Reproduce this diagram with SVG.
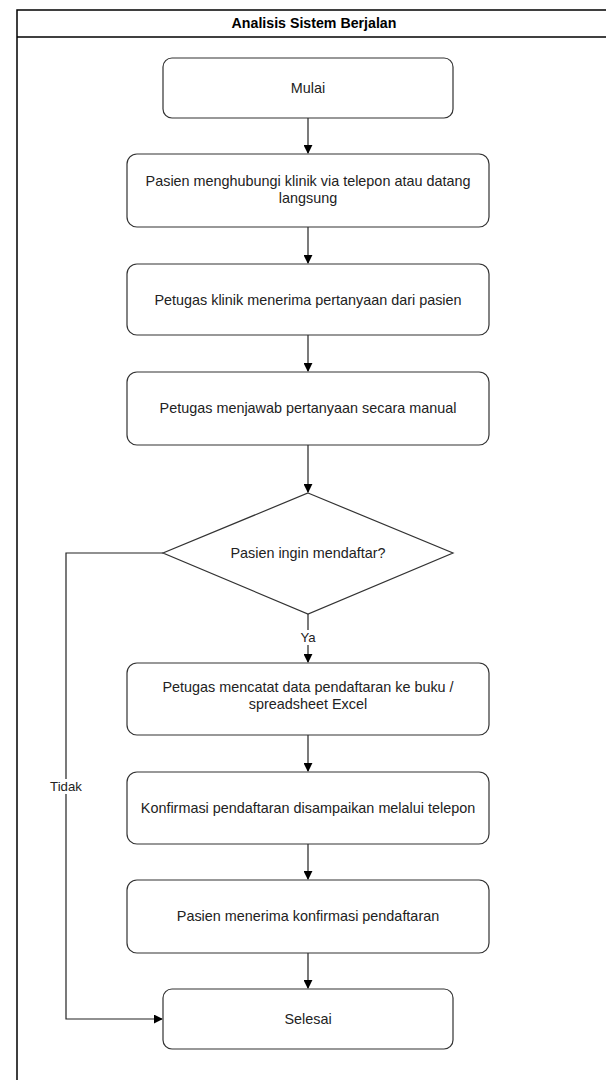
<svg xmlns="http://www.w3.org/2000/svg" width="606" height="1080" viewBox="0 0 606 1080">
<defs>
<style>
.frame{fill:#fff;stroke:#000;stroke-width:1.5}
.box{fill:#fff;stroke:#333;stroke-width:1.2}
.t{font-family:"Liberation Sans",Arial,sans-serif;font-size:14.4px;fill:#222;text-anchor:middle}
.title{font-family:"Liberation Sans",Arial,sans-serif;font-size:14.2px;font-weight:bold;fill:#000;text-anchor:middle}
.lt{font-family:"Liberation Sans",Arial,sans-serif;font-size:13.2px;fill:#222;text-anchor:middle}
.edge{fill:none;stroke:#222;stroke-width:1.2}
.lbl{fill:#fff}
</style>
<marker id="arr" viewBox="0 0 10 10" refX="9" refY="5" markerWidth="9" markerHeight="9" markerUnits="userSpaceOnUse" orient="auto">
<path d="M0,0 L10,5 L0,10 Z" fill="#000"/>
</marker>
</defs>
<rect width="606" height="1080" fill="#fff"/>
<g id="frame">
<rect class="frame" x="17" y="10" width="600" height="1100"/>
<line x1="17" y1="37" x2="617" y2="37" stroke="#000" stroke-width="1.5"/>
<text class="title" x="314" y="28">Analisis Sistem Berjalan</text>
</g>
<g id="connectors">
<path class="edge" d="M308,118 V153" marker-end="url(#arr)"/>
<path class="edge" d="M308,227 V263" marker-end="url(#arr)"/>
<path class="edge" d="M308,335 V371" marker-end="url(#arr)"/>
<path class="edge" d="M308,445 V492" marker-end="url(#arr)"/>
<path class="edge" d="M308,614 V662" marker-end="url(#arr)"/>
<path class="edge" d="M308,735 V771" marker-end="url(#arr)"/>
<path class="edge" d="M308,844 V879" marker-end="url(#arr)"/>
<path class="edge" d="M308,953 V988" marker-end="url(#arr)"/>
<path class="edge" d="M163,553 H66 V1019 H162" marker-end="url(#arr)"/>
<rect class="lbl" x="298" y="630" width="20" height="15"/>
<text class="lt" x="308" y="642">Ya</text>
<rect class="lbl" x="48" y="779" width="37" height="15"/>
<text class="lt" x="66" y="791">Tidak</text>
</g>
<g id="n-mulai">
<rect class="box" x="163" y="58" width="290" height="60" rx="9"/>
<text class="t" x="308" y="93">Mulai</text>
</g>
<g id="n-hubungi">
<rect class="box" x="127" y="154" width="362" height="73" rx="10"/>
<text class="t" x="308" y="186">Pasien menghubungi klinik via telepon atau datang</text>
<text class="t" x="308" y="203">langsung</text>
</g>
<g id="n-terima">
<rect class="box" x="127" y="264" width="362" height="71" rx="10"/>
<text class="t" x="308" y="305">Petugas klinik menerima pertanyaan dari pasien</text>
</g>
<g id="n-jawab">
<rect class="box" x="127" y="372" width="362" height="73" rx="10"/>
<text class="t" x="308" y="413">Petugas menjawab pertanyaan secara manual</text>
</g>
<g id="n-daftar">
<polygon class="box" points="308,493 453,553 308,614 163,553"/>
<text class="t" x="308" y="558">Pasien ingin mendaftar?</text>
</g>
<g id="n-catat">
<rect class="box" x="127" y="663" width="362" height="72" rx="10"/>
<text class="t" x="308" y="692">Petugas mencatat data pendaftaran ke buku /</text>
<text class="t" x="308" y="709">spreadsheet Excel</text>
</g>
<g id="n-konfirmasi">
<rect class="box" x="127" y="772" width="362" height="72" rx="10"/>
<text class="t" x="308" y="813">Konfirmasi pendaftaran disampaikan melalui telepon</text>
</g>
<g id="n-terima-konf">
<rect class="box" x="127" y="880" width="362" height="73" rx="10"/>
<text class="t" x="308" y="921">Pasien menerima konfirmasi pendaftaran</text>
</g>
<g id="n-selesai">
<rect class="box" x="163" y="989" width="290" height="60" rx="9"/>
<text class="t" x="308" y="1024">Selesai</text>
</g>
</svg>
